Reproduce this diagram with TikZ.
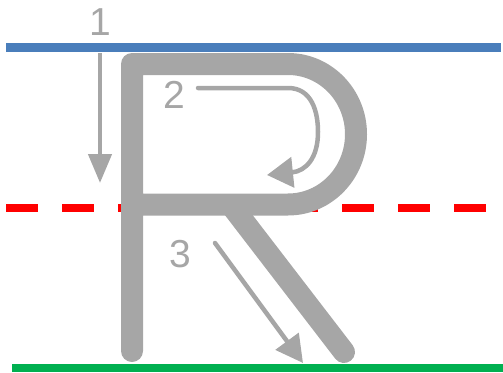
\documentclass[tikz,border=0pt]{standalone}
\usepackage{fontspec}
\setmainfont{Liberation Sans}
\usetikzlibrary{arrows.meta}
\definecolor{lgray}{RGB}{166,166,166}
\definecolor{lblue}{RGB}{74,126,187}
\definecolor{lred}{RGB}{255,0,0}
\definecolor{lgreen}{RGB}{0,176,80}
\tikzset{
  guide/.style={line width=8.4pt},
  letter/.style={draw=lgray,line width=22pt,line cap=round,line join=round},
  strokearrow/.style={draw=lgray,line width=4.5pt},
  numlabel/.style={text=lgray,font=\fontsize{39}{39}\selectfont,inner sep=0pt,anchor=base}
}
\begin{document}
\begin{tikzpicture}[x=1pt,y=-1pt]
\useasboundingbox (0,0) rectangle (503,372);
% guide lines
\coordinate (bl) at (6,47.5); \coordinate (br) at (501,47.5);
\coordinate (rl) at (6,208); \coordinate (rr) at (486,208);
\coordinate (gl) at (12,368); \coordinate (gr) at (503,368);
\draw[guide,lred,dash pattern=on 32pt off 24pt] (rl) -- (rr);
\draw[guide,lblue] (bl) -- (br);
\draw[guide,lgreen] (gl) -- (gr);
% letter R
\coordinate (s0) at (132,351);
\coordinate (s1) at (132,64);
\coordinate (b0) at (288,64);
\coordinate (m0) at (132,204.5);
\coordinate (l0) at (231,205);
\coordinate (l1) at (344,352);
\draw[letter] (s0) -- (s1) -- (b0) arc[start angle=-90,end angle=90,x radius=68,y radius=70.25] -- (m0);
\draw[letter] (l0) -- (l1);
% stroke order arrows
\coordinate (a1s) at (100,53); \coordinate (a1e) at (100,183);
\draw[strokearrow,-{Triangle[length=29pt,width=23pt]}] (a1s) -- (a1e);
\coordinate (a2s) at (198,88); \coordinate (a2m) at (288,88);
\coordinate (a2r) at (318,132); \coordinate (a2e) at (267,175);
\draw[strokearrow,line cap=round,-{Triangle[length=26pt,width=30pt]}] (a2s) -- (a2m) .. controls (312,88) and (318,112) .. (a2r) .. controls (318,158) and (306,171) .. (a2e);
\coordinate (a3s) at (215,243); \coordinate (a3e) at (303,363);
\draw[strokearrow,line cap=round,-{Triangle[length=27pt,width=28pt]}] (a3s) -- (a3e);
% labels
\node[numlabel] (n1) at (100,35) {1};
\node[numlabel] (n2) at (174,108) {2};
\node[numlabel] (n3) at (180,267) {3};
\end{tikzpicture}
\end{document}
